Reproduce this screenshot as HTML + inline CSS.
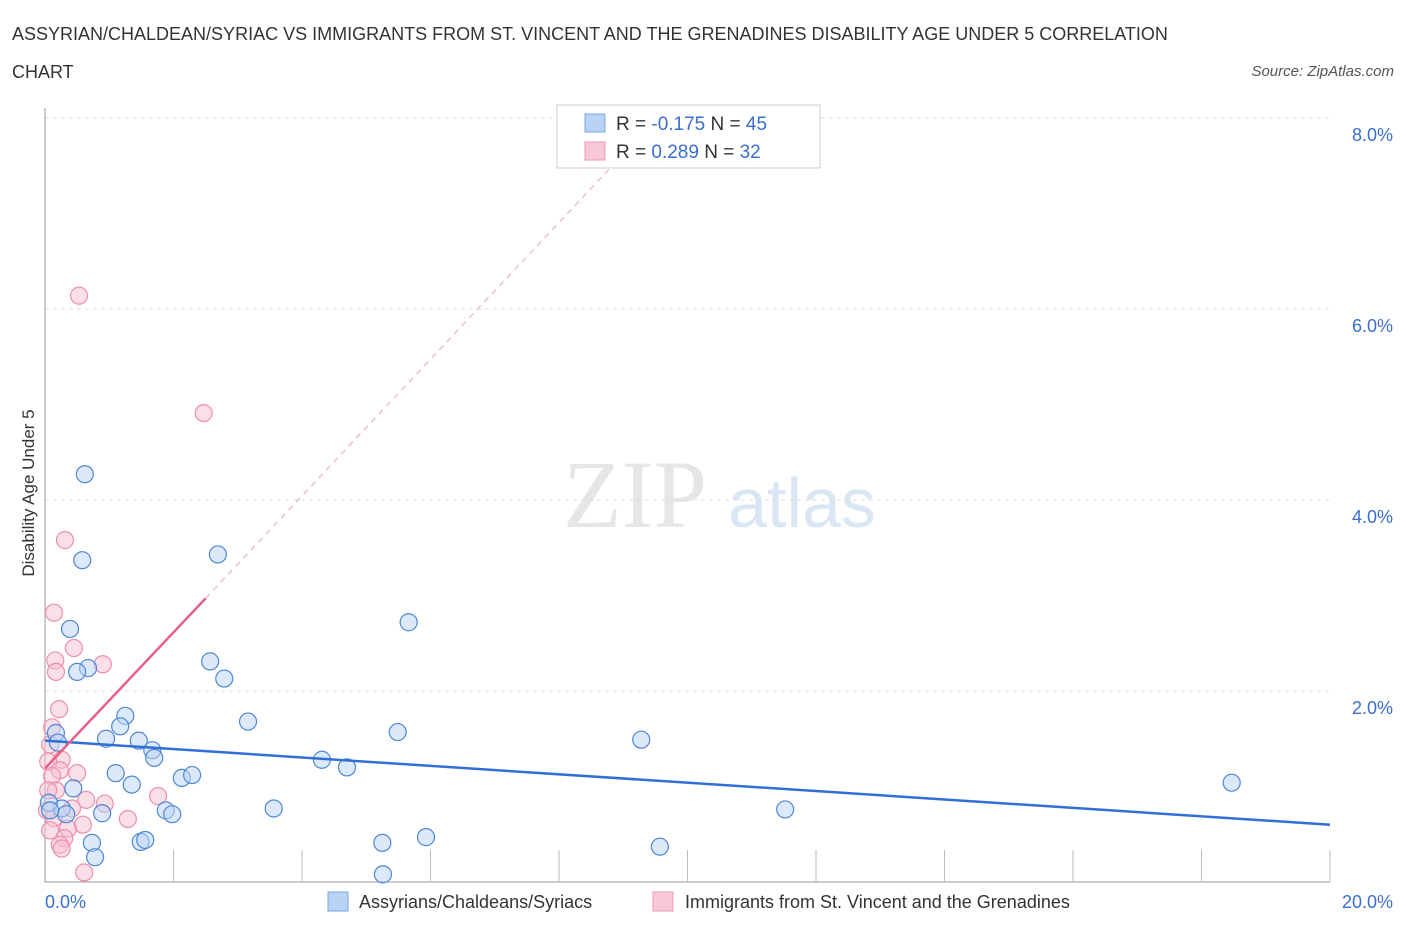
<!DOCTYPE html>
<html><head><meta charset="utf-8"><style>
body{margin:0;background:#fff;font-family:"Liberation Sans",sans-serif;}
svg text{font-family:"Liberation Sans",sans-serif;}
</style></head><body>
<svg id="c" width="1406" height="930">
<text x="12" y="40" font-size="18" fill="#333">ASSYRIAN/CHALDEAN/SYRIAC VS IMMIGRANTS FROM ST. VINCENT AND THE GRENADINES DISABILITY AGE UNDER 5 CORRELATION</text>
<text x="12" y="78" font-size="18" fill="#333">CHART</text>
<text x="1394" y="76" font-size="15" fill="#555" font-style="italic" text-anchor="end">Source: ZipAtlas.com</text>
<text x="635" y="527" font-size="96" fill="#e6e6e6" font-family="Liberation Serif" text-anchor="middle" style="font-family:'Liberation Serif',serif">ZIP</text>
<text x="802" y="527" font-size="70" fill="#dbe6f5" text-anchor="middle">atlas</text>
<g id="grid"></g><g id="axes"></g><g id="marks"></g>
<text x="34" y="493" font-size="17" fill="#333" text-anchor="middle" transform="rotate(-90 34 493)">Disability Age Under 5</text>
<g>
<rect x="557" y="105" width="263" height="63" fill="#fff" stroke="#ccc"/>
<rect x="585" y="114" width="20" height="18" fill="#b9d3f5" stroke="#7aa6e0"/>
<text x="616" y="130" font-size="19" fill="#333">R = <tspan fill="#3a6fd0">-0.175</tspan>   N = <tspan fill="#3a6fd0">45</tspan></text>
<rect x="585" y="142" width="20" height="18" fill="#f8c8d6" stroke="#eb9ab2"/>
<text x="616" y="158" font-size="19" fill="#333">R =  <tspan fill="#3a6fd0">0.289</tspan>   N = <tspan fill="#3a6fd0">32</tspan></text>
</g>
<g>
<rect x="328" y="892" width="20" height="19" fill="#b9d3f5" stroke="#7aa6e0"/>
<text x="359" y="908" font-size="18" fill="#333">Assyrians/Chaldeans/Syriacs</text>
<rect x="653" y="892" width="20" height="19" fill="#f8c8d6" stroke="#eb9ab2"/>
<text x="685" y="908" font-size="18" fill="#333">Immigrants from St. Vincent and the Grenadines</text>
</g>
</svg>
<script>
const yTicks=[2,4,6,8];
const yTickLabels=["2.0%","4.0%","6.0%","8.0%"];
const xTickLabels=["0.0%","20.0%"];
const blueX=[0.62,0.58,2.69,0.39,5.66,0.67,0.50,2.57,2.79,1.25,1.17,3.16,0.17,0.95,1.46,1.67,1.70,9.28,5.49,0.20,4.31,4.70,1.10,2.13,2.29,1.35,0.44,18.47,11.52,3.56,0.89,1.88,1.98,0.26,0.33,0.06,0.73,1.49,1.56,5.25,5.93,0.78,9.57,5.26,0.08];
const blueY=[4.27,3.37,3.43,2.65,2.72,2.24,2.20,2.31,2.13,1.74,1.63,1.68,1.56,1.50,1.48,1.38,1.30,1.49,1.57,1.46,1.28,1.20,1.14,1.09,1.12,1.02,0.98,1.04,0.76,0.77,0.72,0.75,0.71,0.77,0.71,0.83,0.41,0.42,0.44,0.41,0.47,0.26,0.37,0.08,0.75];
const pinkX=[0.53,2.47,0.31,0.14,0.45,0.90,0.16,0.17,0.22,0.11,0.08,0.26,0.05,0.23,0.50,0.11,0.64,0.93,1.76,1.29,0.42,0.14,0.36,0.59,0.03,0.30,0.23,0.26,0.61,0.08,0.17,0.05];
const pinkY=[6.14,4.91,3.58,2.82,2.45,2.28,2.32,2.20,1.81,1.62,1.44,1.28,1.26,1.17,1.14,1.11,0.86,0.82,0.90,0.66,0.77,0.67,0.56,0.60,0.75,0.46,0.39,0.35,0.10,0.54,0.96,0.96];
const blueLine=[[0,1.48],[20,0.60]];
const pinkLine=[[0,1.19],[2.5,2.97]];
const pinkDash=[[2.5,2.97],[8.9,7.55]];
const X=v=>45+v/20*1285, Y=v=>882-v/2*191;
const ns="http://www.w3.org/2000/svg";
function mk(t,a,p){const e=document.createElementNS(ns,t);for(const k in a)e.setAttribute(k,a[k]);document.getElementById(p).appendChild(e);return e;}
yTicks.forEach((t,i)=>{
 const g=mk('line',{x1:45,x2:1330,y1:Y(t),y2:Y(t),stroke:'#ddd','stroke-dasharray':'4,4'},'grid');
 
 
 const l=mk('text',{x:1393,y:Y(t)+23,'font-size':18,fill:'#3a6fd0','text-anchor':'end'},'axes');
 l.textContent=yTickLabels[i];
 
 
});
const ax=mk('line',{x1:45,x2:45,y1:108,y2:882,stroke:'#999'},'axes');


const bx=mk('line',{x1:45,x2:1330,y1:882,y2:882,stroke:'#999'},'axes');


for(let i=1;i<=10;i++){const tk=mk('line',{x1:X(i*2),x2:X(i*2),y1:850,y2:882,stroke:'#bbb'},'axes');
 
 }
[[0,45,'start'],[1,1393,'end']].forEach(([i,x,a])=>{const l=mk('text',{x:x,y:908,'font-size':18,fill:'#3a6fd0','text-anchor':a},'axes');l.textContent=xTickLabels[i];
 
 });
function dots(xs,ys,f,s,n){xs.forEach((x,i)=>{const c=mk('circle',{cx:X(x),cy:Y(ys[i]),r:8.5,fill:f,'fill-opacity':0.5,stroke:s,'stroke-width':1.2},'marks');
 
 });}
dots(pinkX,pinkY,'#f8c0d0','#ec8fab','pink-point');
dots(blueX,blueY,'#b9d3f5','#4f86d8','blue-point');
function ln(p,col,w,d,n){const l=mk('line',{x1:X(p[0][0]),y1:Y(p[0][1]),x2:X(p[1][0]),y2:Y(p[1][1]),stroke:col,'stroke-width':w},'marks');if(d)l.setAttribute('stroke-dasharray',d);
 
 }
ln(blueLine,'#2f6fd6',2.5,null,'blue-trend-line');
ln(pinkLine,'#e8608a',2.5,null,'pink-trend-line');
ln(pinkDash,'#eab0c2',1.2,'6,5','pink-trend-extension');
</script>
</body></html>
